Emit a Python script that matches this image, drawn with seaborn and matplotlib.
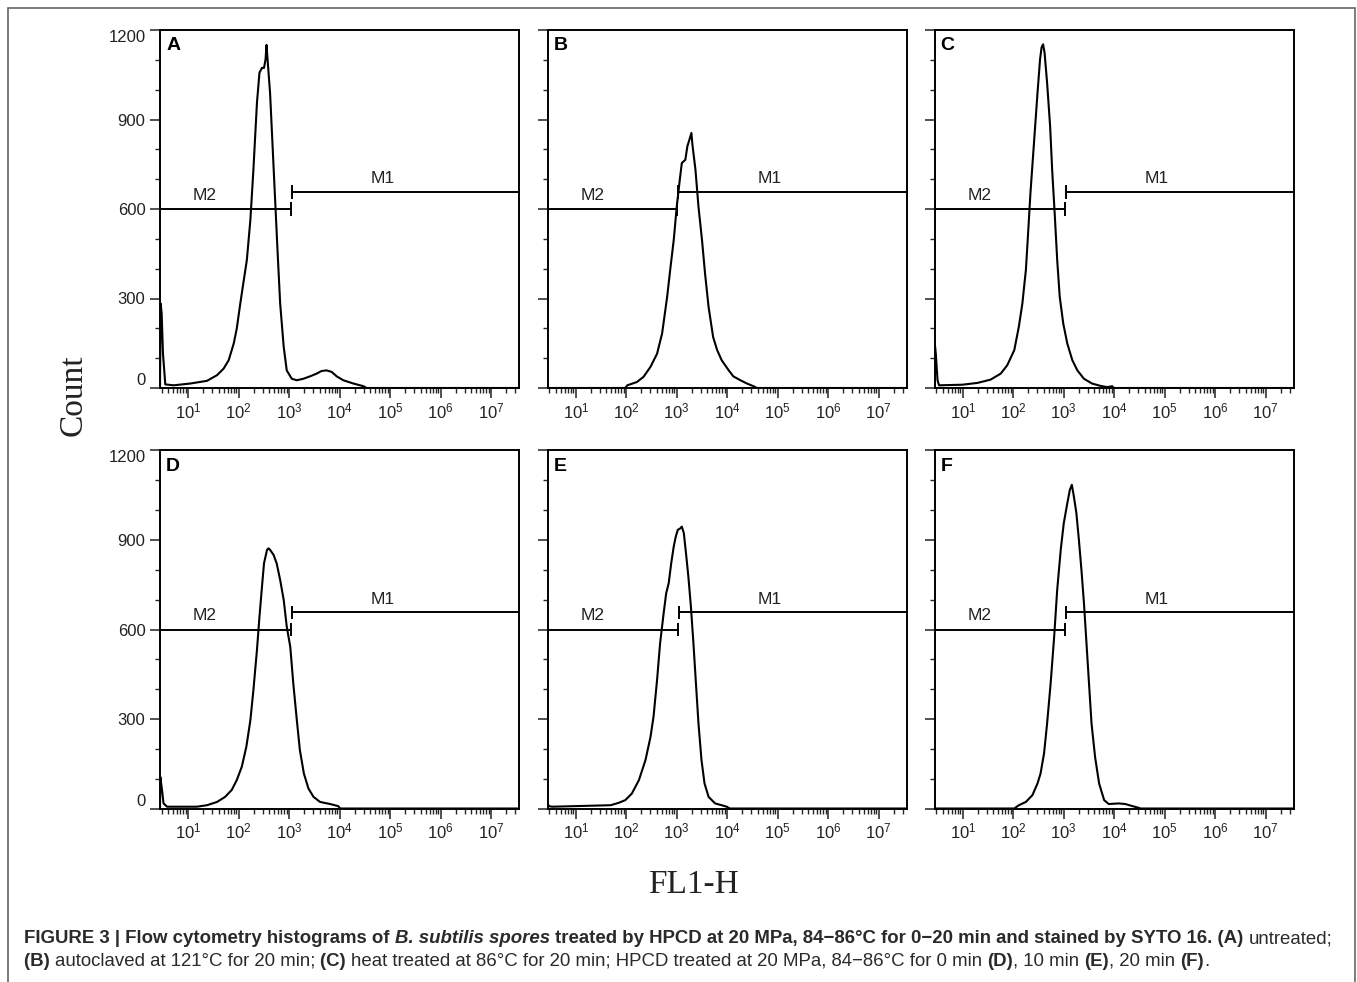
import numpy as np
import pandas as pd
import seaborn as sns
import matplotlib
matplotlib.use("Agg")
import matplotlib.pyplot as plt
from matplotlib import ticker, font_manager
from matplotlib.patches import Rectangle

# ── data (log10 FL1-H, count) ─────────────────────────────────────────────────
a_log = [0.44, 0.453, 0.473, 0.499, 0.545, 0.71, 1.04, 1.37, 1.57, 1.70, 1.80, 1.90, 1.96,
         2.03, 2.09, 2.16, 2.23, 2.29, 2.36, 2.41, 2.46, 2.50, 2.53, 2.55, 2.58, 2.62, 2.67,
         2.72, 2.77, 2.82, 2.89, 2.95, 3.05, 3.15, 3.28, 3.41, 3.54, 3.64, 3.74, 3.84, 3.94,
         4.07, 4.27, 4.47, 4.53, 7.55]
a_cnt = [0, 283, 250, 115, 12, 9, 15, 24, 43, 65, 93, 149, 199, 283, 351, 429, 564, 732, 956,
         1057, 1073, 1073, 1101, 1150, 1079, 989, 810, 631, 452, 283, 138, 59, 31, 26, 31, 39,
         48, 57, 59, 54, 39, 26, 15, 6, 0, 0]

b_log = [0.44, 1.98, 2.02, 2.21, 2.34, 2.48, 2.61, 2.71, 2.81, 2.87, 2.94, 3.00, 3.06, 3.10,
         3.17, 3.21, 3.25, 3.29, 3.31, 3.37, 3.43, 3.50, 3.56, 3.63, 3.72, 3.80, 3.89, 4.03,
         4.12, 4.26, 4.39, 4.52, 4.59, 7.55]
b_cnt = [0, 0, 9, 20, 37, 71, 115, 183, 306, 396, 496, 608, 698, 754, 765, 810, 832, 855, 816,
         732, 608, 496, 384, 272, 171, 127, 93, 59, 39, 26, 15, 6, 0, 0]

c_log = [0.44, 0.446, 0.466, 0.50, 0.53, 0.99, 1.29, 1.55, 1.75, 1.88, 2.02, 2.11, 2.18, 2.25,
         2.29, 2.34, 2.41, 2.48, 2.53, 2.56, 2.59, 2.62, 2.67, 2.73, 2.77, 2.82, 2.87, 2.92,
         2.99, 3.07, 3.17, 3.27, 3.40, 3.56, 3.73, 3.86, 3.96, 3.99, 7.55]
c_cnt = [0, 149, 115, 26, 9, 11, 17, 28, 48, 76, 127, 205, 283, 396, 508, 653, 821, 989, 1101,
         1141, 1152, 1124, 1023, 877, 732, 586, 429, 306, 216, 149, 93, 59, 31, 15, 7, 3, 6, 0, 0]

d_log = [0.44, 0.446, 0.48, 0.51, 0.58, 1.17, 1.37, 1.57, 1.73, 1.86, 1.96, 2.06, 2.15, 2.23,
         2.29, 2.36, 2.41, 2.46, 2.50, 2.56, 2.59, 2.62, 2.69, 2.75, 2.82, 2.89, 2.95, 3.02,
         3.08, 3.15, 3.21, 3.29, 3.38, 3.48, 3.61, 3.81, 3.97, 4.01, 7.55]
d_cnt = [0, 106, 62, 17, 6, 6, 11, 22, 39, 62, 95, 140, 207, 296, 397, 531, 643, 744, 822, 867,
         872, 867, 850, 822, 766, 699, 610, 542, 419, 296, 196, 117, 67, 39, 22, 15, 8, 0, 0]

e_log = [0.44, 0.466, 0.53, 1.69, 1.85, 1.98, 2.11, 2.25, 2.38, 2.48, 2.54, 2.61, 2.67, 2.74,
         2.79, 2.84, 2.89, 2.94, 2.98, 3.02, 3.07, 3.10, 3.14, 3.19, 3.23, 3.28, 3.33, 3.38,
         3.43, 3.49, 3.55, 3.63, 3.76, 3.89, 3.99, 4.05, 7.55]
e_cnt = [17, 8, 6, 11, 19, 28, 50, 95, 162, 240, 308, 431, 554, 654, 721, 755, 822, 878, 911,
         934, 939, 945, 923, 844, 777, 677, 554, 419, 285, 162, 84, 39, 17, 11, 6, 0, 0]

f_log = [0.44, 2.02, 2.11, 2.25, 2.38, 2.48, 2.54, 2.61, 2.67, 2.74, 2.81, 2.87, 2.94, 3.00,
         3.07, 3.12, 3.16, 3.20, 3.25, 3.30, 3.35, 3.40, 3.45, 3.50, 3.55, 3.62, 3.70, 3.80,
         3.89, 4.09, 4.22, 4.36, 4.49, 4.52, 7.55]
f_cnt = [0, 0, 11, 22, 45, 84, 117, 185, 285, 419, 576, 733, 867, 956, 1023, 1068, 1085, 1046,
         990, 900, 800, 688, 554, 419, 285, 173, 84, 28, 15, 17, 15, 8, 2, 0, 0]

panel_letters = ["A", "B", "C", "D", "E", "F"]
gate_split = [3.04, 3.01, 3.03, 3.04, 3.03, 3.03]   # log10 where M2 ends / M1 starts
m2_level, m1_level = 600, 657
y_ticks = [0, 300, 600, 900, 1200]
x_decades = [1, 2, 3, 4, 5, 6, 7]

caption_1 = [("FIGURE 3 | Flow cytometry histograms of ", "bold", "normal"),
             ("B. subtilis spores ", "bold", "italic"),
             ("treated by HPCD at 20 MPa, 84\u221286\u00b0C for 0\u221220 min and stained by SYTO 16. (A) ",
              "bold", "normal"),
             ("untreated;", "normal", "normal")]
caption_2 = [("(B) ", "bold", "normal"),
             ("autoclaved at 121\u00b0C for 20 min; ", "normal", "normal"),
             ("(C) ", "bold", "normal"),
             ("heat treated at 86\u00b0C for 20 min; HPCD treated at 20 MPa, 84\u221286\u00b0C for 0 min ",
              "normal", "normal"),
             ("(D)", "bold", "normal"), (", 10 min ", "normal", "normal"),
             ("(E)", "bold", "normal"), (", 20 min ", "normal", "normal"),
             ("(F)", "bold", "normal"), (".", "normal", "normal")]

# ── style ──────────────────────────────────────────────────────────────────────
sns.set_theme(style="ticks")
plt.rcParams["font.family"] = ["Liberation Sans", "DejaVu Sans"]
plt.rcParams["mathtext.fontset"] = "custom"
plt.rcParams["mathtext.rm"] = "Liberation Sans"
plt.rcParams["mathtext.it"] = "Liberation Sans:italic"
plt.rcParams["mathtext.bf"] = "Liberation Sans:bold"

W, H = 1357, 982
fig = plt.figure(figsize=(W / 100, H / 100), dpi=100)
fig.patch.set_facecolor("white")

col_left = [160, 547.5, 934.5]
row_top = [30, 450.5]
ax_w, ax_h = 359, 358
xlo, xhi = 10 ** 0.44, 10 ** 7.55

series = [(a_log, a_cnt), (b_log, b_cnt), (c_log, c_cnt),
          (d_log, d_cnt), (e_log, e_cnt), (f_log, f_cnt)]

for i, (lg, cnt) in enumerate(series):
    r, c = divmod(i, 3)
    ax = fig.add_axes([col_left[c] / W, 1 - (row_top[r] + ax_h) / H, ax_w / W, ax_h / H])
    df = pd.DataFrame({"fl1": 10 ** np.array(lg), "count": cnt})
    sns.lineplot(data=df, x="fl1", y="count", ax=ax, color="black", lw=1.5,
                 estimator=None, sort=False)
    ax.set_xscale("log")
    ax.set_xlim(xlo, xhi)
    ax.set_ylim(0, 1200)
    ax.set_xlabel("")
    ax.set_ylabel("")

    ax.xaxis.set_major_locator(ticker.FixedLocator([10.0 ** d for d in x_decades]))
    ax.xaxis.set_minor_locator(ticker.LogLocator(base=10, subs=np.arange(2, 10), numticks=100))
    ax.xaxis.set_major_formatter(ticker.LogFormatterMathtext())
    ax.xaxis.set_minor_formatter(ticker.NullFormatter())
    ax.set_yticks(y_ticks)
    ax.yaxis.set_minor_locator(ticker.MultipleLocator(100))
    if c > 0:
        # only the first column carries count labels
        ax.yaxis.set_major_formatter(ticker.NullFormatter())

    ax.tick_params(which="major", direction="out", length=7, width=1.1, labelsize=12,
                   colors="#222222", top=False, right=False)
    ax.tick_params(which="minor", direction="out", length=3.5, width=1.0,
                   top=False, right=False)
    ax.tick_params(axis="y", pad=3.5)
    ax.tick_params(axis="x", pad=2.5)
    for sp in ax.spines.values():
        sp.set_visible(True)
        sp.set_linewidth(1.4)
        sp.set_color("black")

    yt = ax.yaxis.get_major_ticks()
    yt[0].label1.set_verticalalignment("bottom")
    yt[-1].label1.set_verticalalignment("top")

    # M2 / M1 gates
    g = 10 ** gate_split[i]
    cap = 22
    ax.hlines(m2_level, xlo, g, color="black", lw=1.4)
    ax.vlines(g, m2_level - cap, m2_level + cap, color="black", lw=1.4)
    ax.vlines(xlo * 1.01, m2_level - cap, m2_level + cap, color="black", lw=1.4)
    ax.hlines(m1_level, g, xhi, color="black", lw=1.4)
    ax.vlines(g * 1.02, m1_level - cap, m1_level + cap, color="black", lw=1.4)
    ax.text(10 ** 1.33, 631, "M2", ha="center", va="baseline", fontsize=12.5, color="#222222")
    ax.text(10 ** 4.85, 687, "M1", ha="center", va="baseline", fontsize=12.5, color="#222222")

    ax.text(0.017, 0.98, panel_letters[i], transform=ax.transAxes, ha="left", va="top",
            fontsize=14, fontweight="bold", color="black")

# ── shared axis titles ─────────────────────────────────────────────────────────
fig.text(73.5 / W, 1 - 395 / H, "Count", rotation=90, ha="center", va="center",
         family="Liberation Serif", fontsize=24, color="#222222")
fig.text(693 / W, 1 - 893 / H, "FL1-H", ha="center", va="baseline",
         family="Liberation Serif", fontsize=24, color="#222222")

# ── outer frame ────────────────────────────────────────────────────────────────
fig.add_artist(Rectangle((8 / W, 1 - 1000 / H), (1355 - 8) / W, (1000 - 8) / H,
                         transform=fig.transFigure, fill=False, edgecolor="#666666", lw=1.2))

# ── caption with mixed weights ─────────────────────────────────────────────────
names = {f.name for f in font_manager.fontManager.ttflist}
cap_family = "Liberation Sans Narrow" if "Liberation Sans Narrow" in names else "Liberation Sans"
renderer = fig.canvas.get_renderer()


def run_width(s, size, weight, style):
    kw = dict(fontsize=size, fontweight=weight, fontstyle=style, family=cap_family)
    t1 = fig.text(0, 0, s + "|", **kw)
    w1 = t1.get_window_extent(renderer=renderer).width
    t1.remove()
    t2 = fig.text(0, 0, "|", **kw)
    w2 = t2.get_window_extent(renderer=renderer).width
    t2.remove()
    return w1 - w2


def draw_runs(runs, x, y, size):
    for s, weight, style in runs:
        fig.text(x / W, 1 - y / H, s, fontsize=size, fontweight=weight, fontstyle=style,
                 family=cap_family, ha="left", va="baseline", color="#2a2a2a")
        x += run_width(s, size, weight, style)


base = 10
w_line1 = sum(run_width(s, base, wt, st) for s, wt, st in caption_1)
cap_size = base * (1314 / w_line1)
draw_runs(caption_1, 24, 943, cap_size)
draw_runs(caption_2, 24, 966, cap_size)

fig.savefig("out.png", dpi=100)
